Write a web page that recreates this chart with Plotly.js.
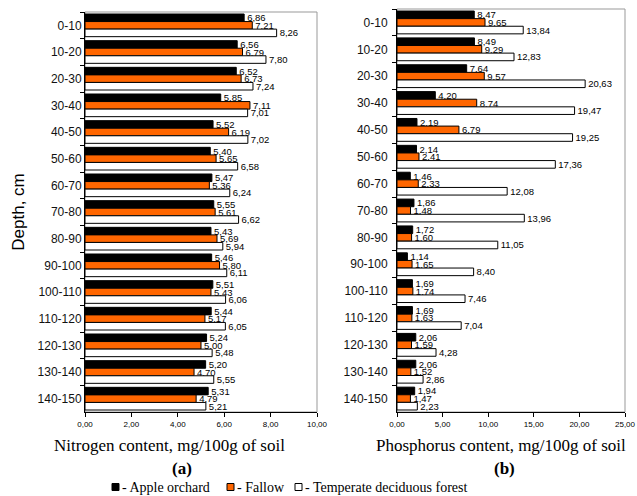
<!DOCTYPE html>
<html>
<head>
<meta charset="utf-8">
<script src="https://cdn.plot.ly/plotly-3.0.1.min.js"></script>
<style>
  html, body { margin: 0; padding: 0; background: #fff; }
  #chart { width: 637px; height: 496px; }
</style>
</head>
<body>
<div id="chart"></div>
<script>
// Soil depth layers, cm
const depths = ['0-10','10-20','20-30','30-40','40-50','50-60','60-70','70-80',
                '80-90','90-100','100-110','110-120','120-130','130-140','140-150'];

// Nitrogen content, mg/100g of soil
const nAppleOrchard = [6.86, 6.56, 6.52, 5.85, 5.52, 5.40, 5.47, 5.55, 5.43, 5.46, 5.51, 5.44, 5.24, 5.20, 5.31];
const nFallow       = [7.21, 6.79, 6.73, 7.11, 6.19, 5.65, 5.36, 5.61, 5.69, 5.80, 5.43, 5.17, 5.00, 4.70, 4.79];
const nForest       = [8.26, 7.80, 7.24, 7.01, 7.02, 6.58, 6.24, 6.62, 5.94, 6.11, 6.06, 6.05, 5.48, 5.55, 5.21];

// Phosphorus content, mg/100g of soil
const pAppleOrchard = [8.47, 8.49, 7.64, 4.20, 2.19, 2.14, 1.46, 1.86, 1.72, 1.14, 1.69, 1.69, 2.06, 2.06, 1.94];
const pFallow       = [9.65, 9.29, 9.57, 8.74, 6.79, 2.41, 2.33, 1.48, 1.60, 1.65, 1.74, 1.63, 1.59, 1.52, 1.47];
const pForest       = [13.84, 12.83, 20.63, 19.47, 19.25, 17.36, 12.08, 13.96, 11.05, 8.40, 7.46, 7.04, 4.28, 2.86, 2.23];

const seriesNames = ['- Apple orchard', '- Fallow', '- Temperate deciduous forest'];
const fills = ['#000000', '#ff6600', '#ffffff'];

const fmt = v => v.toFixed(2).replace('.', ',');

function barTrace(values, idx, xa, ya) {
  return {
    type: 'bar',
    orientation: 'h',
    x: values,
    y: depths,
    xaxis: xa,
    yaxis: ya,
    name: seriesNames[idx],
    showlegend: false,
    marker: { color: fills[idx], line: { color: '#000', width: 1 } },
    text: values.map(fmt),
    textposition: 'outside',
    constraintext: 'none',
    cliponaxis: false,
    textfont: { family: 'Arial, Liberation Sans, sans-serif', size: 9.5, color: '#000' },
    hoverinfo: 'x+y+name'
  };
}

const data = [
  barTrace(nAppleOrchard, 0, 'x', 'y'),
  barTrace(nFallow, 1, 'x', 'y'),
  barTrace(nForest, 2, 'x', 'y'),
  barTrace(pAppleOrchard, 0, 'x2', 'y2'),
  barTrace(pFallow, 1, 'x2', 'y2'),
  barTrace(pForest, 2, 'x2', 'y2')
];

const tickFont = { family: 'Arial, Liberation Sans, sans-serif', size: 8, color: '#000' };
const catFont = { family: 'Arial, Liberation Sans, sans-serif', size: 12, color: '#111' };
const serif = 'Liberation Serif, Times New Roman, serif';

const xCommon = {
  showgrid: false, zeroline: false,
  showline: true, linecolor: '#000', linewidth: 1,
  ticks: 'outside', ticklen: 4, tickcolor: '#000',
  tickformat: '.2f', tickfont: tickFont
};
const yCommon = {
  type: 'category', autorange: 'reversed',
  showgrid: false, zeroline: false,
  showline: true, linecolor: '#000', linewidth: 1,
  ticks: 'outside', ticklen: 4, tickcolor: '#000',
  tickson: 'boundaries', tickfont: catFont
};

// page-pixel helpers for the captions and the legend below the plots
const ML = 85, MT = 9, PW = 540, PH = 403;
const px = x => (x - ML) / PW;
const py = y => (MT + PH - y) / PH;

const legendItems = [
  { x: 112, label: seriesNames[0], fill: fills[0] },
  { x: 227, label: seriesNames[1], fill: fills[1] },
  { x: 295, label: seriesNames[2], fill: fills[2] }
];
const legendY = 487;

const swatches = legendItems.map(it => ({
  type: 'rect', xref: 'paper', yref: 'paper',
  x0: px(it.x), x1: px(it.x + 7), y0: py(legendY + 3.5), y1: py(legendY - 3.5),
  fillcolor: it.fill, line: { color: '#000', width: 1 }
}));
const legendTexts = legendItems.map(it => ({
  text: it.label, xref: 'paper', yref: 'paper',
  x: px(it.x + 8), y: py(legendY), xanchor: 'left', yanchor: 'middle',
  showarrow: false, font: { family: serif, size: 14, color: '#000' }
}));

const layout = {
  width: 637, height: 496,
  margin: { l: ML, r: 637 - ML - PW, t: MT, b: 496 - MT - PH },
  paper_bgcolor: '#fff', plot_bgcolor: '#fff',
  separators: ', ',
  barmode: 'group', bargap: 0.15, bargroupgap: 0,
  showlegend: false,
  xaxis: Object.assign({}, xCommon, { domain: [0, px(317)], range: [0, 10], dtick: 2, anchor: 'y' }),
  xaxis2: Object.assign({}, xCommon, { domain: [px(397), 1], range: [0, 25], dtick: 5, anchor: 'y2' }),
  yaxis: Object.assign({}, yCommon, {
    domain: [0, py(12)], anchor: 'x',
    title: { text: 'Depth, cm', standoff: 8,
             font: { family: 'Arial, Liberation Sans, sans-serif', size: 17, color: '#000' } }
  }),
  yaxis2: Object.assign({}, yCommon, { domain: [0, 1], anchor: 'x2', ticklabelstandoff: 6 }),
  shapes: [
    { type: 'rect', xref: 'x domain', yref: 'y domain', x0: 0, x1: 1, y0: 0, y1: 1,
      line: { color: '#999', width: 1 }, layer: 'below' },
    { type: 'rect', xref: 'x2 domain', yref: 'y2 domain', x0: 0, x1: 1, y0: 0, y1: 1,
      line: { color: '#999', width: 1 }, layer: 'below' }
  ].concat(swatches),
  annotations: [
    { text: 'Nitrogen content, mg/100g of soil', xref: 'paper', yref: 'paper',
      x: px(169), y: py(446), xanchor: 'center', yanchor: 'middle',
      showarrow: false, font: { family: serif, size: 17, color: '#000' } },
    { text: '<b>(a)</b>', xref: 'paper', yref: 'paper',
      x: px(182), y: py(468), xanchor: 'center', yanchor: 'middle',
      showarrow: false, font: { family: serif, size: 17, color: '#000' } },
    { text: 'Phosphorus content, mg/100g of soil', xref: 'paper', yref: 'paper',
      x: px(501), y: py(446), xanchor: 'center', yanchor: 'middle',
      showarrow: false, font: { family: serif, size: 17, color: '#000' } },
    { text: '<b>(b)</b>', xref: 'paper', yref: 'paper',
      x: px(504), y: py(468), xanchor: 'center', yanchor: 'middle',
      showarrow: false, font: { family: serif, size: 17, color: '#000' } }
  ].concat(legendTexts)
};

Plotly.newPlot('chart', data, layout, { displayModeBar: false, staticPlot: true });
</script>
</body>
</html>
